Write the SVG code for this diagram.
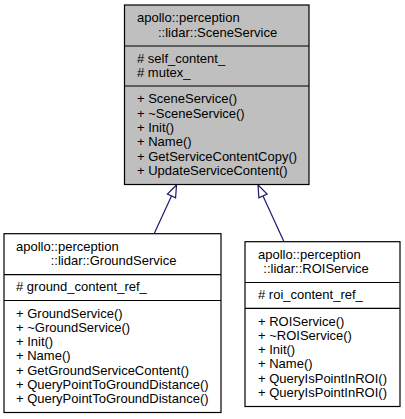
<svg xmlns="http://www.w3.org/2000/svg" width="405" height="419" viewBox="0 0 405 419">
<style>
text{font-family:"Liberation Sans",Arial,sans-serif;font-size:13px;fill:#000}
.box{stroke:#000;stroke-width:1.2}
.base{fill:#bfbfbf}
.cls{fill:#fff}
.div{stroke:#000;stroke-width:1.2}
.edge{stroke:#191970;stroke-width:1.2;fill:none}
.head{stroke:#191970;stroke-width:1.2;fill:#fff}
</style>
<rect width="405" height="419" fill="#fff"/>
<g id="connectors">
<path class="edge" d="M154,234 L171.5,195.9"/>
<polygon class="head" points="176.5,185 167.4,194 175.6,197.8"/>
<path class="edge" d="M284,241.7 L263,195.9"/>
<polygon class="head" points="258,185 267.1,194 258.9,197.8"/>
</g>
<g id="SceneService">
<rect class="box base" x="124.5" y="5" width="184.5" height="179.5"/>
<line class="div" x1="124.5" y1="46" x2="309" y2="46"/>
<line class="div" x1="124.5" y1="86" x2="309" y2="86"/>
<text x="137" y="22">apollo::perception</text>
<text x="158" y="36.5">::lidar::SceneService</text>
<text x="137" y="62.5"># self_content_</text>
<text x="137" y="76.8"># mutex_</text>
<text x="137" y="103.3">+ SceneService()</text>
<text x="137" y="117.6">+ ~SceneService()</text>
<text x="137" y="131.9">+ Init()</text>
<text x="137" y="146.2">+ Name()</text>
<text x="137" y="160.5">+ GetServiceContentCopy()</text>
<text x="137" y="174.8">+ UpdateServiceContent()</text>
</g>
<g id="GroundService">
<rect class="box cls" x="4" y="233.7" width="217" height="178.8"/>
<line class="div" x1="4" y1="274.7" x2="221" y2="274.7"/>
<line class="div" x1="4" y1="300.5" x2="221" y2="300.5"/>
<text x="16" y="250.7">apollo::perception</text>
<text x="50.7" y="265.2">::lidar::GroundService</text>
<text x="16" y="291.2"># ground_content_ref_</text>
<text x="16" y="317.5">+ GroundService()</text>
<text x="16" y="331.8">+ ~GroundService()</text>
<text x="16" y="346.1">+ Init()</text>
<text x="16" y="360.4">+ Name()</text>
<text x="16" y="374.7">+ GetGroundServiceContent()</text>
<text x="16" y="389">+ QueryPointToGroundDistance()</text>
<text x="16" y="403.3">+ QueryPointToGroundDistance()</text>
</g>
<g id="ROIService">
<rect class="box cls" x="245" y="241.7" width="155" height="164.8"/>
<line class="div" x1="245" y1="282.5" x2="400" y2="282.5"/>
<line class="div" x1="245" y1="308.3" x2="400" y2="308.3"/>
<text x="258" y="258.7">apollo::perception</text>
<text x="263.3" y="273.2">::lidar::ROIService</text>
<text x="258" y="299.2"># roi_content_ref_</text>
<text x="258" y="325.5">+ ROIService()</text>
<text x="258" y="339.8">+ ~ROIService()</text>
<text x="258" y="354.1">+ Init()</text>
<text x="258" y="368.4">+ Name()</text>
<text x="258" y="382.7">+ QueryIsPointInROI()</text>
<text x="258" y="397">+ QueryIsPointInROI()</text>
</g>
</svg>
